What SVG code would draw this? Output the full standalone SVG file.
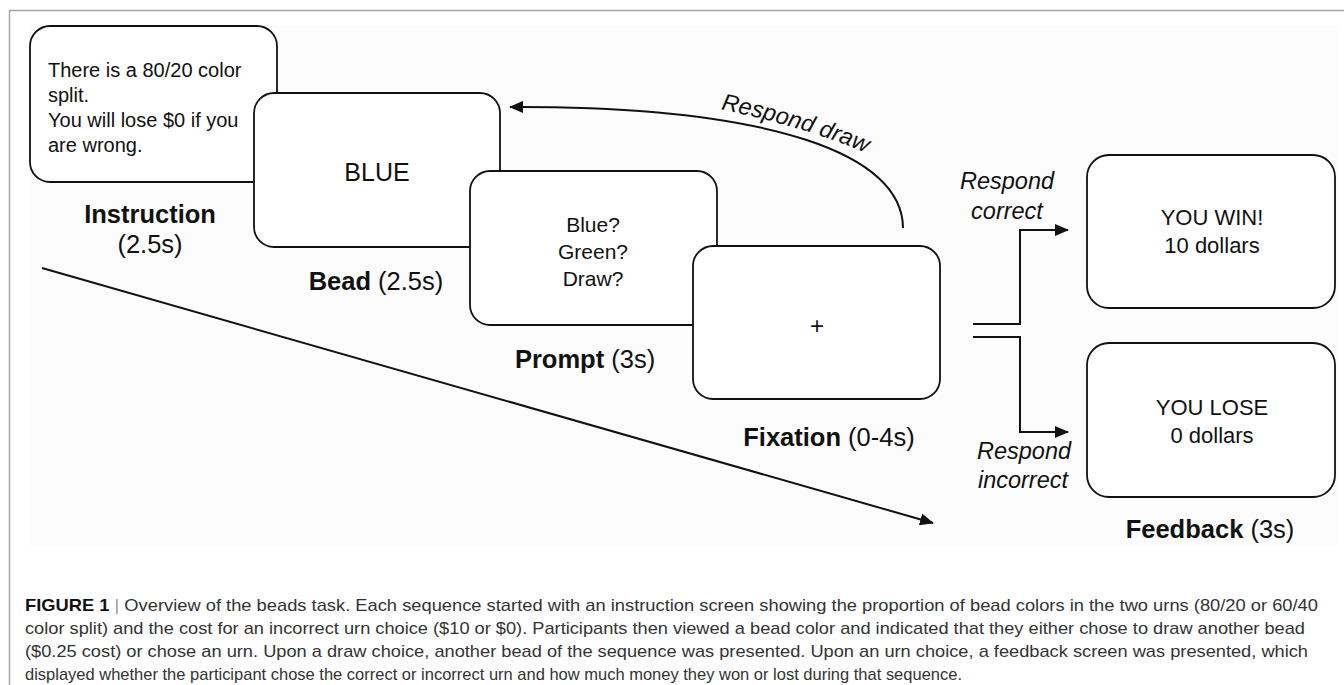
<svg xmlns="http://www.w3.org/2000/svg" width="1344" height="685" viewBox="0 0 1344 685">
<style>
.box{fill:#fff;stroke:#111;stroke-width:1.8}
.t{font-family:"Liberation Sans",Arial,sans-serif;fill:#111}
.lbl{font-family:"Liberation Sans",Arial,sans-serif;fill:#111;font-size:25.5px;text-anchor:middle}
.b{font-weight:bold}
.it{font-family:"Liberation Sans",Arial,sans-serif;font-style:italic;fill:#111;font-size:23.5px}
.conn{fill:none;stroke:#111;stroke-width:2}
.cap{font-family:"Liberation Sans Narrow","Liberation Sans",Arial,sans-serif;font-size:17px;fill:#333}
</style>
<defs>
<marker id="ah" viewBox="0 0 14 12" refX="13" refY="6" markerWidth="14" markerHeight="12" markerUnits="userSpaceOnUse" orient="auto">
<path d="M0,0 L14,6 L0,12 Z" fill="#111"/>
</marker>
<path id="tp" d="M 600 93 C 700 100, 820 125, 920 178"/>
</defs>
<rect x="0" y="0" width="1344" height="685" fill="#fff"/>
<rect x="30" y="25" width="1307" height="522" fill="#fcfcfc"/>
<path d="M9.5,685 V10.5 H1344" fill="none" stroke="#a8a8a8" stroke-width="1.5"/>

<g id="instruction">
<rect class="box" x="30" y="26" width="247" height="156" rx="20"/>
<text class="t" font-size="20" x="48" y="77">There is a 80/20 color</text>
<text class="t" font-size="20" x="48" y="102">split.</text>
<text class="t" font-size="20" x="48" y="127">You will lose $0 if you</text>
<text class="t" font-size="20" x="48" y="152">are wrong.</text>
<text class="lbl b" x="150" y="223">Instruction</text>
<text class="lbl" x="150" y="253">(2.5s)</text>
</g>

<g id="bead">
<rect class="box" x="254" y="93" width="246" height="154" rx="20"/>
<text class="t" font-size="25" x="377" y="181" text-anchor="middle">BLUE</text>
<text class="lbl" x="376" y="290"><tspan class="b">Bead</tspan> (2.5s)</text>
</g>

<g id="prompt">
<rect class="box" x="470" y="171" width="247" height="154" rx="20"/>
<text class="t" font-size="21" x="593" y="232" text-anchor="middle">Blue?</text>
<text class="t" font-size="21" x="593" y="259" text-anchor="middle">Green?</text>
<text class="t" font-size="21" x="593" y="286" text-anchor="middle">Draw?</text>
<text class="lbl" x="585" y="368"><tspan class="b">Prompt</tspan> (3s)</text>
</g>

<g id="fixation">
<rect class="box" x="693" y="246" width="247" height="153" rx="20"/>
<text class="t" font-size="24" x="817" y="334" text-anchor="middle">+</text>
<text class="lbl" x="829" y="446"><tspan class="b">Fixation</tspan> (0-4s)</text>
</g>

<g id="feedback-win">
<rect class="box" x="1087" y="155" width="248" height="153" rx="22"/>
<text class="t" font-size="22" x="1212" y="225" text-anchor="middle">YOU WIN!</text>
<text class="t" font-size="22" x="1212" y="253" text-anchor="middle">10 dollars</text>
</g>

<g id="feedback-lose">
<rect class="box" x="1087" y="343" width="248" height="154" rx="22"/>
<text class="t" font-size="22" x="1212" y="415" text-anchor="middle">YOU LOSE</text>
<text class="t" font-size="22" x="1212" y="443" text-anchor="middle">0 dollars</text>
<text class="lbl" x="1210" y="538"><tspan class="b">Feedback</tspan> (3s)</text>
</g>

<g id="connectors">
<path class="conn" d="M903,228 C903,155 775,106 510,107" marker-end="url(#ah)"/>
<text class="it"><textPath href="#tp" startOffset="122">Respond draw</textPath></text>
<path class="conn" d="M973,324 H1020 V230 H1068" marker-end="url(#ah)"/>
<path class="conn" d="M973,337 H1020 V432 H1068" marker-end="url(#ah)"/>
<text class="it" x="1007" y="189" text-anchor="middle">Respond</text>
<text class="it" x="1007" y="219" text-anchor="middle">correct</text>
<text class="it" x="1024" y="459" text-anchor="middle">Respond</text>
<text class="it" x="1023" y="488" text-anchor="middle">incorrect</text>
<path class="conn" d="M42,268 L933,523" marker-end="url(#ah)"/>
</g>

<g id="caption">
<text class="cap" x="25" y="611" textLength="1293" lengthAdjust="spacingAndGlyphs"><tspan font-weight="bold" fill="#111">FIGURE 1</tspan><tspan fill="#999"> | </tspan>Overview of the beads task. Each sequence started with an instruction screen showing the proportion of bead colors in the two urns (80/20 or 60/40</text>
<text class="cap" x="25" y="634" textLength="1280" lengthAdjust="spacingAndGlyphs">color split) and the cost for an incorrect urn choice ($10 or $0). Participants then viewed a bead color and indicated that they either chose to draw another bead</text>
<text class="cap" x="25" y="657" textLength="1283" lengthAdjust="spacingAndGlyphs">($0.25 cost) or chose an urn. Upon a draw choice, another bead of the sequence was presented. Upon an urn choice, a feedback screen was presented, which</text>
<text class="cap" x="25" y="680" textLength="937" lengthAdjust="spacingAndGlyphs">displayed whether the participant chose the correct or incorrect urn and how much money they won or lost during that sequence.</text>
</g>
</svg>
